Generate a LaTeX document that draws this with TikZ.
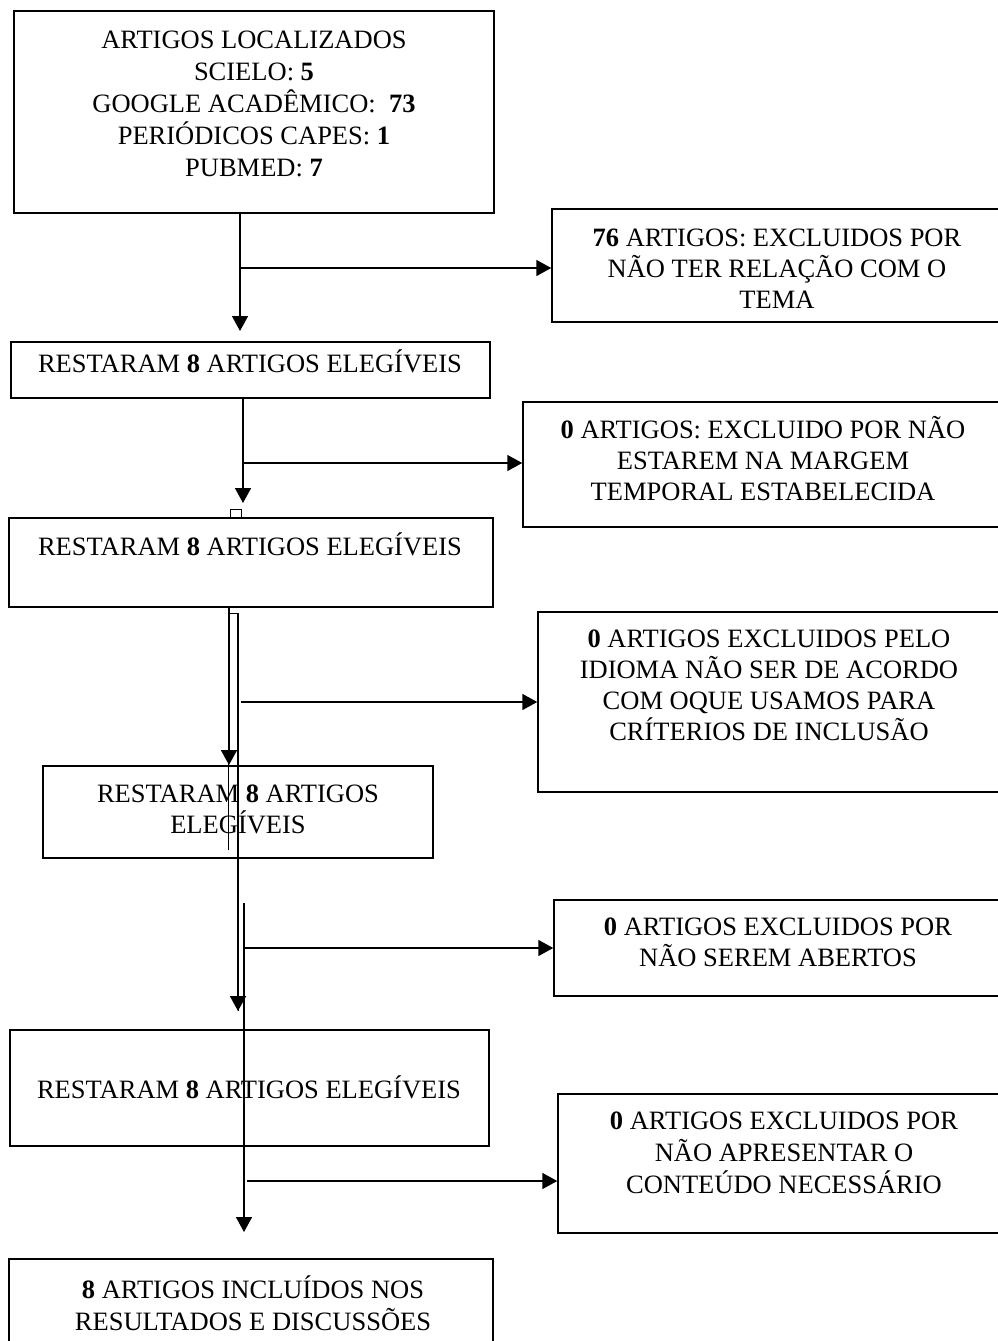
\documentclass[tikz,border=0pt]{standalone}
\usepackage{fontspec}
\setmainfont{Liberation Serif}
\usetikzlibrary{arrows.meta}
\begin{document}
\begin{tikzpicture}[x=1pt,y=-1pt,
  box/.style={draw, line width=1.5pt, inner sep=0pt},
  txt/.style={align=center, inner sep=0pt, anchor=south, font=\fontsize{26.5}{31}\selectfont},
  txtwide/.style={txt, font=\fontsize{26.5}{32}\selectfont},
  arr/.style={line width=1.6pt, -{Triangle[width=16pt,length=15pt]}},
  ln/.style={line width=1.6pt},
  thinln/.style={line width=0.9pt}]
\useasboundingbox (0,0) rectangle (998,1341);
% left column boxes
\node[box, minimum width=480pt, minimum height=202pt] (A) at (254,112) {};
\node[box, minimum width=479pt, minimum height=56pt] (B) at (250.5,370) {};
\node[box, minimum width=484pt, minimum height=89pt] (C) at (251,562.5) {};
\node[box, minimum width=390pt, minimum height=92pt] (D) at (238,812) {};
\node[box, minimum width=479pt, minimum height=116pt] (E) at (249.5,1088) {};
\node[box, minimum width=484pt, minimum height=86pt] (F) at (251,1302) {};
% right column boxes
\node[box, minimum width=451pt, minimum height=113pt] (R1) at (777.5,265.5) {};
\node[box, minimum width=480pt, minimum height=125pt] (R2) at (763,464.5) {};
\node[box, minimum width=465pt, minimum height=180pt] (R3) at (770.5,702) {};
\node[box, minimum width=449pt, minimum height=96pt] (R4) at (778.5,948) {};
\node[box, minimum width=445pt, minimum height=139pt] (R5) at (780.5,1163.5) {};
% texts
\node[txtwide] (At) at (254,177) {ARTIGOS LOCALIZADOS\\SCIELO: \textbf{5}\\GOOGLE ACADÊMICO:~ \textbf{73}\\PERIÓDICOS CAPES: \textbf{1}\\PUBMED: \textbf{7}};
\node[txt] (Bt) at (250,373) {RESTARAM \textbf{8} ARTIGOS ELEGÍVEIS};
\node[txt] (Ct) at (250,556) {RESTARAM \textbf{8} ARTIGOS ELEGÍVEIS};
\node[txt] (Dt) at (238,834) {RESTARAM \textbf{8} ARTIGOS\\ELEGÍVEIS};
\node[txt] (Et) at (249,1099) {RESTARAM \textbf{8} ARTIGOS ELEGÍVEIS};
\node[txtwide] (Ft) at (253,1331) {\textbf{8} ARTIGOS INCLUÍDOS NOS\\RESULTADOS E DISCUSSÕES};
\node[txt] (R1t) at (777,309) {\textbf{76} ARTIGOS: EXCLUIDOS POR\\NÃO TER RELAÇÃO COM O\\TEMA};
\node[txt] (R2t) at (763,501) {\textbf{0} ARTIGOS: EXCLUIDO POR NÃO\\ESTAREM NA MARGEM\\TEMPORAL ESTABELECIDA};
\node[txt] (R3t) at (769,741) {\textbf{0} ARTIGOS EXCLUIDOS PELO\\IDIOMA NÃO SER DE ACORDO\\COM OQUE USAMOS PARA\\CRÍTERIOS DE INCLUSÃO};
\node[txt] (R4t) at (778,967) {\textbf{0} ARTIGOS EXCLUIDOS POR\\NÃO SEREM ABERTOS};
\node[txtwide] (R5t) at (784,1194) {\textbf{0} ARTIGOS EXCLUIDOS POR\\NÃO APRESENTAR O\\CONTEÚDO NECESSÁRIO};
% small square
\node[draw, line width=0.9pt, inner sep=0pt, minimum width=11pt, minimum height=9pt] (sq) at (235.5,513.5) {};
% connector end points
\coordinate (a1) at (240,331);
\coordinate (h1) at (240,268);
\coordinate (a2) at (243,503);
\coordinate (h2) at (243,463);
\coordinate (a3) at (229,765);
\coordinate (p1) at (228,850);
\coordinate (p2) at (228,613);
\coordinate (p3) at (238,613);
\coordinate (a4) at (238,1011);
\coordinate (h3) at (241,702);
\coordinate (v5) at (244,903);
\coordinate (a5) at (244,1232);
\coordinate (h4) at (244,948);
\coordinate (h5) at (247,1181);
% connectors
\draw[arr] (A.south -| a1) -- (a1);
\draw[arr] (h1) -- (h1 -| R1.west);
\draw[arr] (B.south -| a2) -- (a2);
\draw[arr] (h2) -- (h2 -| R2.west);
\draw[arr] (C.south -| a3) -- (a3);
\draw[thinln] (p1) -- (p2) -- (p3) -- (p3 |- a4);
\draw[arr] (p3) -- (a4);
\draw[arr] (h3) -- (h3 -| R3.west);
\draw[arr] (v5) -- (a5);
\draw[arr] (h4) -- (h4 -| R4.west);
\draw[arr] (h5) -- (h5 -| R5.west);
\end{tikzpicture}
\end{document}
